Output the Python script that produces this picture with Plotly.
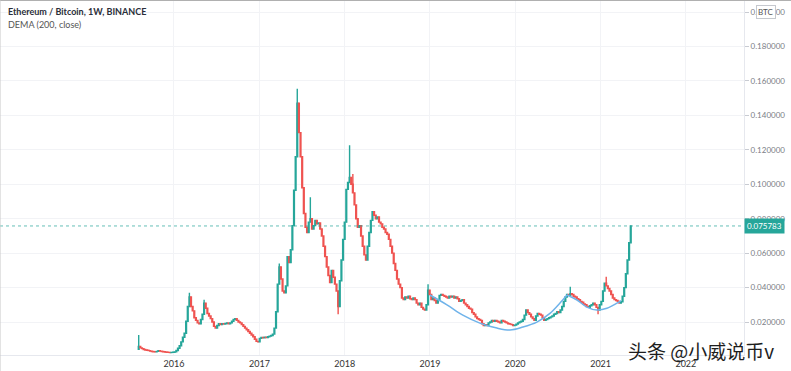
import pandas as pd
import plotly.graph_objects as go

# ---------------- data ----------------
start_week = "2015-08-03"
weekly_close = [
    0.0058, 0.0050, 0.0046, 0.0041, 0.0038, 0.0036, 0.0034, 0.0031, 0.0029, 0.0028,
    0.0027, 0.0030, 0.0033, 0.0031, 0.0029, 0.0028, 0.0026, 0.0025, 0.0024, 0.0023,
    0.0024, 0.0025, 0.0027, 0.0035, 0.0048, 0.0062, 0.0085, 0.0112, 0.0135, 0.0205,
    0.0290, 0.0345, 0.0290, 0.0265, 0.0225, 0.0210, 0.0195, 0.0190, 0.0215, 0.0245,
    0.0310, 0.0280, 0.0250, 0.0235, 0.0220, 0.0200, 0.0175, 0.0165, 0.0180, 0.0190,
    0.0185, 0.0190, 0.0188, 0.0192, 0.0195, 0.0190, 0.0195, 0.0205, 0.0215, 0.0220,
    0.0210, 0.0200, 0.0195, 0.0185, 0.0175, 0.0165, 0.0155, 0.0145, 0.0135, 0.0125,
    0.0115, 0.0100, 0.0088, 0.0085, 0.0105, 0.0110, 0.0108, 0.0112, 0.0110, 0.0115,
    0.0118, 0.0122, 0.0130, 0.0165, 0.0260, 0.0420, 0.0520, 0.0450, 0.0380, 0.0370,
    0.0410, 0.0580, 0.0545, 0.0620, 0.0760, 0.0965, 0.1160, 0.1470, 0.1300, 0.1160,
    0.0980, 0.0830, 0.0750, 0.0720, 0.0780, 0.0800, 0.0740, 0.0760, 0.0790, 0.0770,
    0.0775, 0.0740, 0.0700, 0.0640, 0.0580, 0.0520, 0.0470, 0.0430, 0.0500, 0.0460,
    0.0420, 0.0380, 0.0290, 0.0440, 0.0560, 0.0680, 0.0780, 0.0970, 0.1010, 0.1040,
    0.1000, 0.0950, 0.0880, 0.0800, 0.0750, 0.0760, 0.0700, 0.0640, 0.0590, 0.0560,
    0.0640, 0.0720, 0.0790, 0.0840, 0.0820, 0.0800, 0.0810, 0.0780, 0.0770, 0.0750,
    0.0740, 0.0720, 0.0710, 0.0680, 0.0640, 0.0600, 0.0540, 0.0500, 0.0450, 0.0420,
    0.0400, 0.0340, 0.0330, 0.0345, 0.0340, 0.0350, 0.0335, 0.0330, 0.0340, 0.0330,
    0.0310, 0.0300, 0.0310, 0.0285, 0.0275, 0.0270, 0.0300, 0.0385, 0.0360, 0.0330,
    0.0340, 0.0325, 0.0310, 0.0330, 0.0355, 0.0360, 0.0355, 0.0350, 0.0345, 0.0340,
    0.0350, 0.0345, 0.0350, 0.0340, 0.0345, 0.0335, 0.0320, 0.0325, 0.0330, 0.0310,
    0.0300, 0.0290, 0.0280, 0.0275, 0.0255, 0.0245, 0.0230, 0.0220, 0.0215, 0.0210,
    0.0190, 0.0180, 0.0185, 0.0180, 0.0195, 0.0200, 0.0210, 0.0205, 0.0210, 0.0205,
    0.0200, 0.0195, 0.0210, 0.0205, 0.0200, 0.0195, 0.0190, 0.0188, 0.0185, 0.0180,
    0.0182, 0.0188, 0.0195, 0.0200, 0.0205, 0.0215, 0.0240, 0.0270, 0.0255, 0.0245,
    0.0230, 0.0220, 0.0210, 0.0235, 0.0250, 0.0245, 0.0240, 0.0225, 0.0210, 0.0215,
    0.0220, 0.0225, 0.0230, 0.0235, 0.0245, 0.0250, 0.0260, 0.0255, 0.0270, 0.0290,
    0.0320, 0.0345, 0.0360, 0.0355, 0.0365, 0.0360, 0.0350, 0.0345, 0.0335, 0.0330,
    0.0320, 0.0315, 0.0305, 0.0300, 0.0290, 0.0285, 0.0295, 0.0300, 0.0310, 0.0300,
    0.0285, 0.0270, 0.0300, 0.0320, 0.0380, 0.0425, 0.0410, 0.0395, 0.0380, 0.0360,
    0.0340, 0.0330, 0.0325, 0.0320, 0.0310, 0.0318, 0.0350, 0.0400, 0.0480, 0.0560,
    0.0660, 0.075783,
]
first_open = 0.0042

# notable wicks (week index -> price)
wick_high_idx = [0, 31, 40, 86, 97, 105, 129, 131, 177, 264, 286]
wick_high_val = [0.0125, 0.0370, 0.0330, 0.0540, 0.1555, 0.0925, 0.1226, 0.1060, 0.0420, 0.0405, 0.0463]
wick_low_idx = [122, 281]
wick_low_val = [0.0245, 0.0245]

# hand-drawn cup & handle arcs
cup_dates = ["2019-01-01", "2019-03-15", "2019-05-22", "2019-08-03", "2019-10-15", "2019-12-10",
             "2020-02-03", "2020-04-03", "2020-05-29", "2020-07-11", "2020-08-10"]
cup_values = [0.0357, 0.0300, 0.0240, 0.0194, 0.0165, 0.0154, 0.0171, 0.0200, 0.0250, 0.0310, 0.0357]
handle_dates = ["2020-08-10", "2020-09-22", "2020-11-03", "2020-12-16", "2021-01-28", "2021-03-12", "2021-03-29"]
handle_values = [0.0357, 0.0328, 0.0287, 0.0270, 0.0280, 0.0310, 0.0325]

year_ticks = ["2016-01-01", "2017-01-01", "2018-01-01", "2019-01-01", "2020-01-01", "2021-01-01", "2022-01-01"]
year_labels = ["2016", "2017", "2018", "2019", "2020", "2021", "2022"]
price_ticks = [0.02, 0.04, 0.06, 0.08, 0.10, 0.12, 0.14, 0.16, 0.18, 0.20]
last_price = 0.075783

# ---------------- build OHLC ----------------
dates = pd.date_range(start_week, periods=len(weekly_close), freq="7D")
opens = [first_open] + weekly_close[:-1]
highs = [max(o, c) for o, c in zip(opens, weekly_close)]
lows = [min(o, c) for o, c in zip(opens, weekly_close)]
for i, v in zip(wick_high_idx, wick_high_val):
    highs[i] = max(highs[i], v)
for i, v in zip(wick_low_idx, wick_low_val):
    lows[i] = min(lows[i], v)

UP = "#26a69a"
DOWN = "#ef5350"

fig = go.Figure()
fig.add_trace(go.Candlestick(
    x=dates, open=opens, high=highs, low=lows, close=weekly_close,
    increasing=dict(line=dict(color=UP, width=1.4), fillcolor=UP),
    decreasing=dict(line=dict(color=DOWN, width=1.4), fillcolor=DOWN),
    whiskerwidth=0, showlegend=False, hoverinfo="skip",
))
for dx, dy in ((cup_dates, cup_values), (handle_dates, handle_values)):
    fig.add_trace(go.Scatter(
        x=dx, y=dy, mode="lines", line=dict(color="#6fb3ea", width=1.5, shape="spline", smoothing=1.0),
        showlegend=False, hoverinfo="skip",
    ))

W, H = 791, 371
L, R, T, B = 0, 47, 0, 16
plot_w = W - L - R
plot_h = H - T - B

fig.update_layout(
    width=W, height=H,
    margin=dict(l=L, r=R, t=T, b=B),
    paper_bgcolor="white", plot_bgcolor="white",
    font=dict(family="Lato, 'Open Sans', sans-serif", color="#333"),
    showlegend=False,
)
fig.update_xaxes(
    type="date", range=["2013-12-17", "2022-09-07"],
    rangeslider=dict(visible=False),
    tickvals=year_ticks, ticktext=year_labels,
    showgrid=True, gridcolor="#f2f3f6", gridwidth=1,
    showline=True, linecolor="#e6e8ee", linewidth=1,
    ticks="", tickfont=dict(size=9, color="#333", family="Lato"),
    zeroline=False, fixedrange=True,
)
fig.update_yaxes(
    side="right", range=[0.00087, 0.20697],
    tickvals=price_ticks, tickformat=".6f",
    showgrid=True, gridcolor="#f2f3f6", gridwidth=1,
    showline=True, linecolor="#e6e8ee", linewidth=1,
    ticks="outside", ticklen=4, tickcolor="#c8cbd2",
    tickfont=dict(size=8, color="#7a7d85", family="Lato"),
    zeroline=False, fixedrange=True,
)

# last price dotted line and label
fig.add_shape(type="line", xref="paper", x0=0, x1=1, yref="y", y0=last_price, y1=last_price,
              line=dict(color=UP, width=1, dash="dot"), opacity=0.7)
fig.add_annotation(xref="paper", x=1.0, xanchor="left", yref="y", y=last_price, yanchor="middle",
                   text=f"{last_price:.6f}", showarrow=False, bgcolor=UP, borderpad=2,
                   font=dict(size=8, color="white", family="Lato"))

# BTC currency box
fig.add_annotation(xref="paper", x=(766 - L) / plot_w, xanchor="center",
                   yref="paper", y=(plot_h - 12) / plot_h, yanchor="middle",
                   text="BTC", showarrow=False, bgcolor="white", bordercolor="#c5c8ce",
                   borderwidth=1, borderpad=1, font=dict(size=8, color="#555", family="Lato"))

# legend texts
fig.add_annotation(xref="paper", x=6 / plot_w, xanchor="left", yref="paper", y=(plot_h - 12) / plot_h,
                   yanchor="middle", text="<b>Ethereum / Bitcoin, 1W, BINANCE</b>", showarrow=False,
                   font=dict(size=9, color="#2a2e39", family="Lato"))
fig.add_annotation(xref="paper", x=6 / plot_w, xanchor="left", yref="paper", y=(plot_h - 24) / plot_h,
                   yanchor="middle", text="DEMA (200, close)", showarrow=False,
                   font=dict(size=9, color="#555", family="Lato"))

# watermark
fig.add_annotation(xref="paper", x=626 / plot_w, xanchor="left", yref="paper", y=(plot_h - 350) / plot_h,
                   yanchor="middle", text="头条 @小威说币v", showarrow=False,
                   font=dict(size=19, color="#1e1e1e", family="Noto Sans CJK SC"))

# frame lines at top and left (screenshot border)
fig.add_shape(type="line", xref="paper", yref="paper", x0=0, x1=W / plot_w, y0=1, y1=1,
              line=dict(color="#b0b0b0", width=2))
fig.add_shape(type="line", xref="paper", yref="paper", x0=0, x1=0, y0=-B / plot_h, y1=1,
              line=dict(color="#c8c8c8", width=1))

fig.write_html("out.html", config={"displayModeBar": False},
               post_script="document.body.style.margin='0';document.body.style.overflow='hidden';")
